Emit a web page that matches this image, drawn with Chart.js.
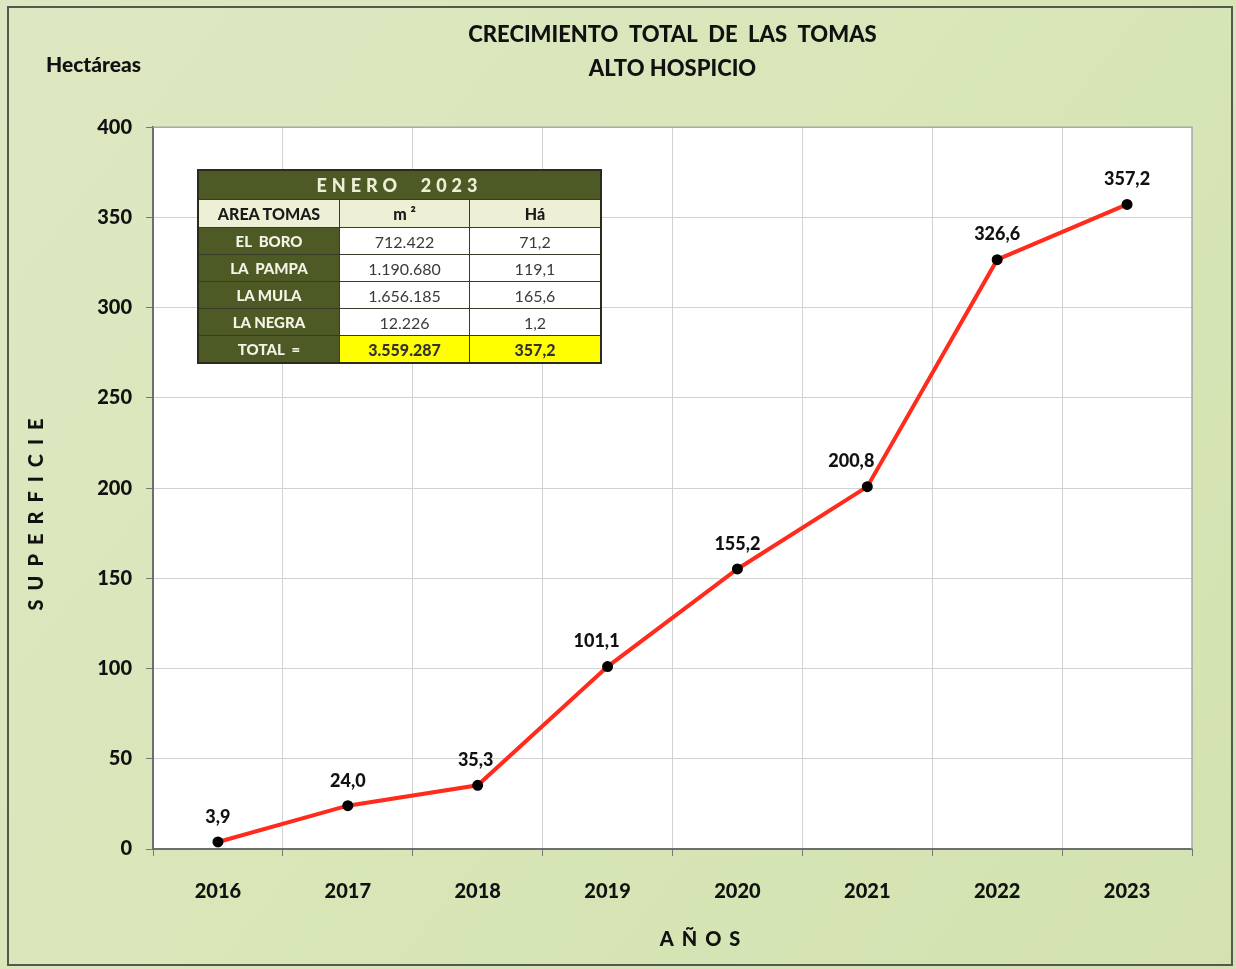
<!DOCTYPE html>
<html>
<head>
<meta charset="utf-8">
<script src="https://cdn.jsdelivr.net/npm/chart.js@4.4.0/dist/chart.umd.min.js"></script>
<style>
  html, body { margin: 0; padding: 0; background: #fff; }
  #wrap { position: relative; width: 1236px; height: 969px; }
  canvas { display: block; }
  #tbl { position: absolute; left: 197px; top: 169px; border-collapse: collapse;
         font-family: Lato, "Open Sans", sans-serif; border: 2px solid #2b2b1c; }
  #tbl td { border: 1.5px solid #3a3a28; text-align: center; padding: 0; height: 26px; font-size: 16px; color: #3a3a3a; white-space: pre; }
  #tbl td.h { background: #4e5a26; color: #ecefd6; font-weight: 900; font-size: 18px; letter-spacing: 5px; height: 28px; }
  #tbl td.sh { background: #eef0d6; color: #1a1a1a; font-weight: 900; font-size: 16px; height: 27px; }
  #tbl td.n { background: #4e5a26; color: #f3f3e6; font-weight: 900; font-size: 15px; }
  #tbl td.v { background: #ffffff; }
  #tbl td.y { background: #ffff00; color: #333; font-weight: 900; font-size: 16px; }
</style>
</head>
<body>
<div id="wrap">
<canvas id="c" width="1236" height="969"></canvas>
<table id="tbl"></table>
</div>
<script>
// ---- data ----
const years = ['2016','2017','2018','2019','2020','2021','2022','2023'];
const hectares = [3.9, 24.0, 35.3, 101.1, 155.2, 200.8, 326.6, 357.2];
const yTicks = [0, 50, 100, 150, 200, 250, 300, 350, 400];
const titleLines = ['CRECIMIENTO  TOTAL  DE  LAS  TOMAS', 'ALTO HOSPICIO'];
const tableTitle = 'ENERO  2023';
const tableHeader = ['AREA TOMAS', 'm ²', 'Há'];
const areaNames = ['EL  BORO', 'LA  PAMPA', 'LA MULA', 'LA NEGRA'];
const areaM2 = ['712.422', '1.190.680', '1.656.185', '12.226'];
const areaHa = ['71,2', '119,1', '165,6', '1,2'];
const totalRow = ['TOTAL  =', '3.559.287', '357,2'];

// ---- table (HTML) ----
const colW = [140, 129, 130];
const tbl = document.getElementById('tbl');
let html = '<tr><td class="h" colspan="3">' + tableTitle + '</td></tr>';
html += '<tr>' + tableHeader.map((t, i) => '<td class="sh" style="width:' + colW[i] + 'px">' + t + '</td>').join('') + '</tr>';
areaNames.forEach((n, i) => {
  html += '<tr><td class="n">' + n + '</td><td class="v">' + areaM2[i] + '</td><td class="v">' + areaHa[i] + '</td></tr>';
});
html += '<tr><td class="n">' + totalRow[0] + '</td><td class="y">' + totalRow[1] + '</td><td class="y">' + totalRow[2] + '</td></tr>';
tbl.innerHTML = html;

const fmt = v => v.toFixed(1).replace('.', ',');
const FONT = 'Lato, "Open Sans", sans-serif';

const bgPlugin = {
  id: 'bg',
  beforeDraw(chart) {
    const { ctx, chartArea: a, width, height } = chart;
    ctx.save();
    const g = ctx.createLinearGradient(0, 0, width, height);
    g.addColorStop(0, '#dde8c2');
    g.addColorStop(0.5, '#d8e6b8');
    g.addColorStop(1, '#d3e2b0');
    ctx.fillStyle = g;
    ctx.fillRect(0, 0, width, height);
    ctx.strokeStyle = '#55584e';
    ctx.lineWidth = 2;
    ctx.strokeRect(8, 7, width - 12, height - 11);
    ctx.fillStyle = '#ffffff';
    ctx.fillRect(a.left, a.top, a.right - a.left, a.bottom - a.top);
    ctx.restore();
  },
  afterDraw(chart) {
    const { ctx, chartArea: a } = chart;
    ctx.save();
    ctx.strokeStyle = '#a9aaa5';
    ctx.lineWidth = 1.5;
    ctx.beginPath();
    ctx.moveTo(a.left, a.top); ctx.lineTo(a.right, a.top); ctx.lineTo(a.right, a.bottom);
    ctx.stroke();
    ctx.fillStyle = '#111';
    ctx.font = '900 21px ' + FONT;
    ctx.textAlign = 'left';
    ctx.textBaseline = 'middle';
    ctx.fillText('Hectáreas', 46, 65);
    ctx.font = '900 20px ' + FONT;
    ctx.letterSpacing = '8px';
    ctx.textAlign = 'center';
    ctx.fillText('AÑOS', 704, 940);
    ctx.letterSpacing = '9px';
    ctx.translate(37, 510);
    ctx.rotate(-Math.PI / 2);
    ctx.fillText('SUPERFICIE', 0, 0);
    ctx.restore();
  }
};

const labelPlugin = {
  id: 'ptLabels',
  afterDatasetsDraw(chart, args, opts) {
    const { ctx } = chart;
    const meta = chart.getDatasetMeta(0);
    ctx.save();
    ctx.fillStyle = '#111';
    ctx.font = '900 18px ' + FONT;
    ctx.textAlign = 'center';
    ctx.textBaseline = 'middle';
    meta.data.forEach((pt, i) => {
      const dx = (opts.dx && opts.dx[i]) || 0;
      ctx.fillText(fmt(chart.data.datasets[0].data[i]), pt.x + dx, pt.y - 25);
    });
    ctx.restore();
  }
};

new Chart(document.getElementById('c'), {
  type: 'line',
  data: {
    labels: years,
    datasets: [{
      data: hectares,
      borderColor: '#ff2b1c',
      borderWidth: 4,
      pointBackgroundColor: '#000',
      pointBorderColor: '#000',
      pointRadius: 3.5,
      tension: 0
    }]
  },
  options: {
    responsive: false,
    animation: false,
    layout: { padding: { left: 0, right: 44, top: 0, bottom: 0 } },
    plugins: {
      legend: { display: false },
      tooltip: { enabled: false },
      title: {
        display: true,
        text: titleLines,
        fullSize: false,
        color: '#111',
        font: { family: FONT, size: 22, weight: '900', lineHeight: 1.55 },
        padding: { top: 18, bottom: 41 }
      },
      ptLabels: { dx: [0, 0, -2, -11, 0, -16, 0, 0] }
    },
    scales: {
      x: {
        offset: true,
        grid: { offset: true, color: '#d2d2d2', lineWidth: 1, tickLength: 7, tickColor: '#777' },
        border: { color: '#6e6e6e', width: 2, dash: [] },
        ticks: { color: '#111', padding: 24, font: { family: FONT, size: 20, weight: '900' }, maxRotation: 0 },
        afterFit(s) { s.height = 120; }
      },
      y: {
        min: 0, max: 400,
        afterBuildTicks(s) { s.ticks = yTicks.map(v => ({ value: v })); },
        grid: { color: '#d2d2d2', lineWidth: 1, tickLength: 7, tickColor: '#777' },
        border: { color: '#6e6e6e', width: 2 },
        ticks: { color: '#111', padding: 14, font: { family: FONT, size: 20, weight: '900' } },
        afterFit(s) { s.width = 153; }
      }
    }
  },
  plugins: [bgPlugin, labelPlugin]
});
</script>
</body>
</html>
